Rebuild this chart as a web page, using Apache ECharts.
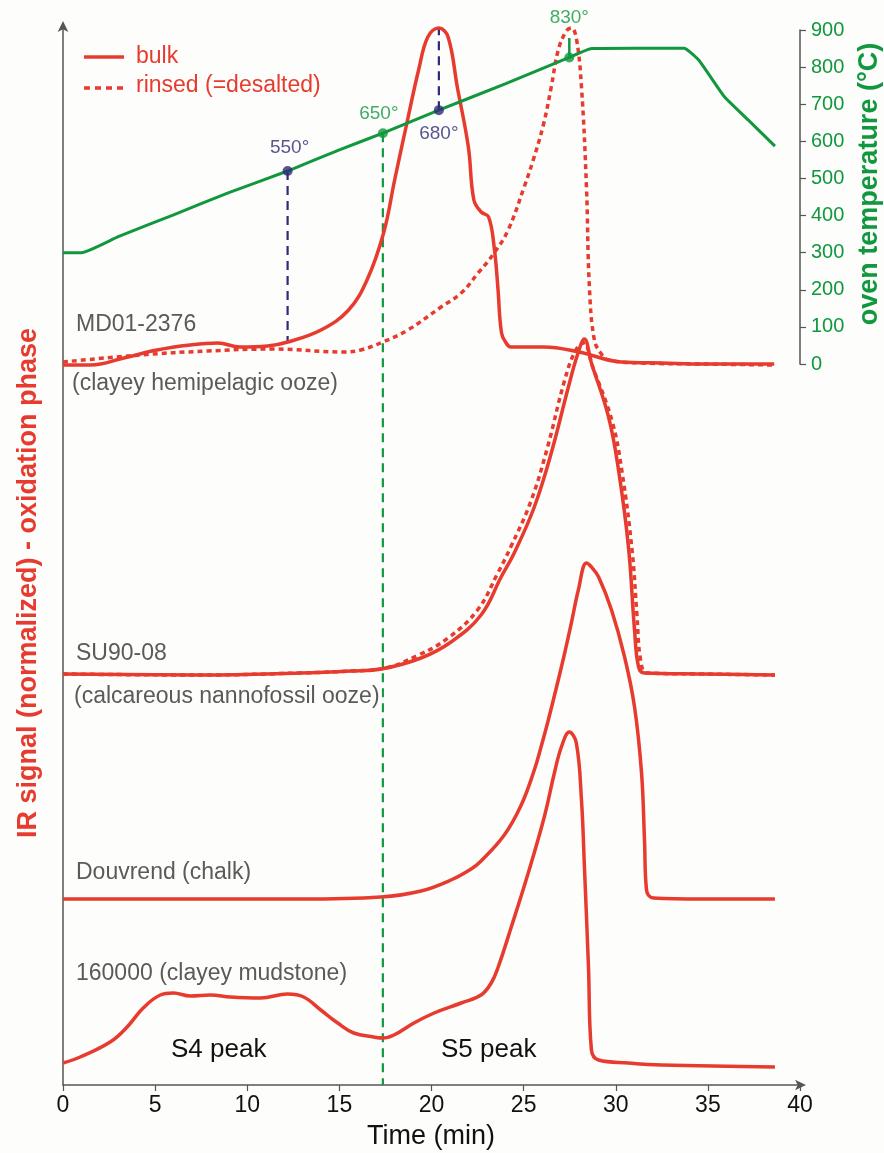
<!DOCTYPE html>
<html><head><meta charset="utf-8">
<script src="https://cdn.jsdelivr.net/npm/echarts@6/dist/echarts.min.js"></script>
<style>html,body{margin:0;padding:0;background:#fdfdfb;} #c{width:884px;height:1153px;}</style>
</head><body><div id="c"></div>
<script>
// ---- data (time in min, IR signal in stacked arbitrary units, temperature in °C) ----
const md01Bulk = [[0,720],[1.5,720],[3.3,727],[5.1,735],[6.9,740],[8.4,742],[9.6,738],[11.1,739],[12.2,743],[14.0,755],[15.5,775],[16.5,805],[17.4,852],[18.0,905],[18.7,965],[19.3,1015],[19.8,1048],[20.4,1057],[20.9,1048],[21.4,998],[22.0,938],[22.3,885],[22.7,873],[23.1,868],[23.4,838],[23.6,798],[23.8,752],[24.05,742],[24.3,738],[26.1,738],[28.0,733],[30.3,723],[32.5,722],[34.7,721],[38.6,721]];
const md01Rinsed = [[0,723],[4.19,730],[7.84,734],[11.43,736],[15.24,733],[16.16,735],[17.36,743],[18.72,755],[20.52,778],[21.61,792],[22.53,812],[23.4,832],[24.16,855],[25.03,898],[25.52,925],[26.07,960],[26.5,998],[26.88,1035],[27.32,1054],[27.59,1057],[27.86,1047],[28.14,998],[28.41,898],[28.57,798],[28.84,745],[29.22,731],[29.61,725],[31.4,722],[34.67,721],[38.64,720]];
const su90Bulk = [[0,411],[7.46,410],[12.9,412],[15.62,414],[17.25,416],[19.43,427],[21.06,443],[22.69,470],[23.78,508],[24.49,532],[25.58,578],[26.5,632],[27.43,698],[27.92,730],[28.3,746],[28.68,722],[29.61,668],[30.15,615],[30.69,538],[31.02,455],[31.24,418],[31.56,412],[34.67,411],[38.64,410]];
const su90Rinsed = [[0,411],[7.46,410],[12.9,412],[15.62,414],[17.25,416],[19.3,430],[20.9,447],[22.5,475],[23.6,512],[24.3,538],[25.4,584],[26.3,638],[27.2,703],[27.8,734],[28.25,742],[28.75,718],[29.8,664],[30.35,612],[30.9,532],[31.15,470],[31.35,425],[31.7,412],[34.67,411],[38.64,410]];
const douvrendBulk = [[0,186],[7.46,186],[12.9,186],[17.25,188],[19.43,194],[21.06,205],[22.15,216],[22.69,224],[23.95,250],[24.87,280],[25.58,315],[25.96,339],[26.34,365],[27.05,418],[27.59,462],[27.97,495],[28.41,522],[28.68,518],[29.07,508],[29.77,475],[30.48,428],[31.02,378],[31.4,312],[31.56,245],[31.67,195],[32.05,187],[34.67,186],[38.64,186]];
const mud160000Bulk = [[0,22],[0.93,28],[2.56,43],[3.48,58],[4.35,77],[5.28,90],[5.99,92],[6.91,89],[8.0,90],[9.09,88],[10.72,87],[12.19,91],[13.06,88],[13.99,75],[14.91,62],[15.78,52],[16.87,48],[17.36,47],[17.96,50],[19.05,62],[20.14,72],[21.61,82],[22.69,90],[23.24,102],[23.62,118],[24.33,158],[25.25,212],[26.12,268],[26.67,312],[27.05,338],[27.48,353],[27.86,342],[28.14,285],[28.3,218],[28.52,118],[28.68,35],[29.07,25],[30.69,22],[32.49,20],[38.64,18]];
const ovenTemp = [[0,300],[1.0,300],[3,343],[6,402],[9,462],[12.19,520],[15,577],[17.36,622],[20.4,684],[24,755],[27.48,826],[28.7,850],[31,851],[33.7,851],[34.5,819],[35.9,720],[37.2,657],[38.64,587]];
const markerTimes = [12.19, 17.36, 20.4, 27.48];
const markerTemps = [520, 622, 684, 826];
const markerLabels = ['550°', '650°', '680°', '830°'];
const markerLineEnds = [743, 0, 1057, 1047];
const xTicks = {min: 0, max: 40, interval: 5};
const tempTicks = {min: 0, max: 900, interval: 100};
const sampleLabels = ['MD01-2376', '(clayey hemipelagic ooze)', 'SU90-08', '(calcareous nannofossil ooze)', 'Douvrend (chalk)', '160000 (clayey mudstone)'];
const peakLabels = ['S4 peak', 'S5 peak'];
const legendLabels = ['bulk', 'rinsed (=desalted)'];
const axisTitles = ['IR signal (normalized) - oxidation phase', 'oven temperature (°C)', 'Time (min)'];

// ---- styles ----
const RED = '#e63b2e', GREEN = '#11973e', PURPLE = '#2e2a78', GRAY = '#5a5a5a', AXIS = '#555';
const FONT = "'Liberation Sans', Arial, sans-serif";
const NARROW = "'Liberation Sans Narrow', 'Arial Narrow', " + FONT;
const BG = '#fdfdfb';

const chart = echarts.init(document.getElementById('c'), null, {renderer: 'canvas'});

function irLine(data, dotted) {
  return {
    type: 'line', xAxisIndex: 0, yAxisIndex: 0, data: data, showSymbol: false, symbol: 'none',
    smooth: 0.4, clip: false, z: 3, silent: true,
    lineStyle: {color: RED, width: 3.5, type: dotted ? [5, 4] : 'solid', cap: 'butt', join: 'round'}
  };
}

const markerColors = [PURPLE, GREEN, PURPLE, GREEN];
const labelOffsets = [[2, -23], [-4, -19], [0, 24], [0, -40]];

const option = {
  backgroundColor: BG,
  animation: false,
  grid: [
    {left: 63, right: 84, top: 25, bottom: 68, containLabel: false, outerBoundsMode: 'none'},
    {left: 63, right: 84, top: 30, height: 334, containLabel: false, outerBoundsMode: 'none'}
  ],
  xAxis: [
    {gridIndex: 0, type: 'value', min: xTicks.min, max: xTicks.max, interval: xTicks.interval,
     axisLine: {show: true, onZero: false, lineStyle: {color: AXIS, width: 1.5}, symbol: ['none', 'arrow'], symbolSize: [8, 11], symbolOffset: [0, 6]},
     axisTick: {show: true, length: 6, lineStyle: {color: AXIS, width: 1.2}},
     axisLabel: {color: '#111', fontSize: 23, fontFamily: NARROW, margin: 9},
     splitLine: {show: false}},
    {gridIndex: 1, type: 'value', min: xTicks.min, max: xTicks.max, show: false}
  ],
  yAxis: [
    {gridIndex: 0, type: 'value', min: 0, max: 1060,
     axisLine: {show: true, onZero: false, lineStyle: {color: AXIS, width: 1.5}, symbol: ['none', 'arrow'], symbolSize: [8, 11], symbolOffset: [0, 4]},
     axisTick: {show: false}, axisLabel: {show: false}, splitLine: {show: false}},
    {gridIndex: 1, type: 'value', position: 'right', min: tempTicks.min, max: tempTicks.max, interval: tempTicks.interval,
     axisLine: {show: true, onZero: false, lineStyle: {color: AXIS, width: 1.5}},
     axisTick: {show: true, inside: false, length: 6, lineStyle: {color: AXIS, width: 1.2}},
     axisLabel: {color: GREEN, fontSize: 20, fontFamily: FONT, margin: 11},
     splitLine: {show: false}}
  ],
  series: [
    irLine(md01Rinsed, true),
    irLine(md01Bulk, false),
    irLine(su90Rinsed, true),
    irLine(su90Bulk, false),
    irLine(douvrendBulk, false),
    irLine(mud160000Bulk, false),
    {type: 'line', xAxisIndex: 1, yAxisIndex: 1, data: ovenTemp, showSymbol: false, symbol: 'none', clip: false, z: 4, silent: true,
     smooth: 0.15, lineStyle: {color: GREEN, width: 3}}
  ],
  graphic: []
};

chart.setOption(option);

// vertical marker lines from the temperature dots (converted between the two y scales)
const lineSeries = [];
markerTimes.forEach((t, i) => {
  const py = chart.convertToPixel({yAxisIndex: 1}, markerTemps[i]);
  const vDot = chart.convertFromPixel({yAxisIndex: 0}, py);
  const solid = i === 3;
  lineSeries.push({
    type: 'line', xAxisIndex: 0, yAxisIndex: 0, data: [[t, vDot], [t, markerLineEnds[i]]],
    showSymbol: false, symbol: 'none', clip: false, z: solid ? 4 : 2, silent: true,
    lineStyle: {color: markerColors[i], width: solid ? 2.5 : 2.2, type: solid ? 'solid' : [9, 6]}
  });
});
const dotSeries = {
  type: 'scatter', xAxisIndex: 1, yAxisIndex: 1, z: 6, silent: true, symbolSize: 10,
  data: markerTimes.map((t, i) => ({
    value: [t, markerTemps[i]],
    itemStyle: {color: markerColors[i]},
    label: {show: true, formatter: markerLabels[i], position: 'inside', offset: labelOffsets[i],
            color: markerColors[i], fontSize: 19, fontFamily: FONT}
  }))
};

const textEl = (txt, x, y, color, size, bg) => ({
  type: 'text', x: x, y: y, z: 5, silent: true,
  style: {text: txt, fill: color, font: size + 'px ' + FONT, verticalAlign: 'middle', align: 'left',
          backgroundColor: bg || 'transparent', padding: bg ? [2, 2, 2, 0] : 0}
});

option.series = option.series.concat(lineSeries, [dotSeries]);
option.graphic = [
  {type: 'line', z: 5, silent: true, shape: {x1: 84, y1: 57, x2: 124, y2: 57}, style: {stroke: RED, lineWidth: 3.5}},
  {type: 'line', z: 5, silent: true, shape: {x1: 84, y1: 88, x2: 124, y2: 88}, style: {stroke: RED, lineWidth: 3.5, lineDash: [6, 5]}},
  textEl(legendLabels[0], 136, 57, RED, 23),
  textEl(legendLabels[1], 136, 86, RED, 23),
  textEl(sampleLabels[0], 76, 325, GRAY, 23),
  textEl(sampleLabels[1], 72, 384, GRAY, 23),
  textEl(sampleLabels[2], 76, 654, GRAY, 23),
  textEl(sampleLabels[3], 74, 697, GRAY, 23, BG),
  textEl(sampleLabels[4], 76, 873, GRAY, 23),
  textEl(sampleLabels[5], 76, 974, GRAY, 23),
  textEl(peakLabels[0], 171, 1050, '#111', 26),
  textEl(peakLabels[1], 441, 1050, '#111', 26),
  {type: 'text', x: 29, y: 583, rotation: Math.PI / 2, z: 5, silent: true,
   style: {text: axisTitles[0], fill: RED, font: 'bold 27px ' + FONT, align: 'center', verticalAlign: 'middle'}},
  {type: 'text', x: 870, y: 184, rotation: Math.PI / 2, z: 5, silent: true,
   style: {text: axisTitles[1], fill: GREEN, font: 'bold 27px ' + FONT, align: 'center', verticalAlign: 'middle'}},
  {type: 'text', x: 431, y: 1137, z: 5, silent: true,
   style: {text: axisTitles[2], fill: '#111', font: '27px ' + FONT, align: 'center', verticalAlign: 'middle'}}
];
chart.setOption(option, true);
</script></body></html>
